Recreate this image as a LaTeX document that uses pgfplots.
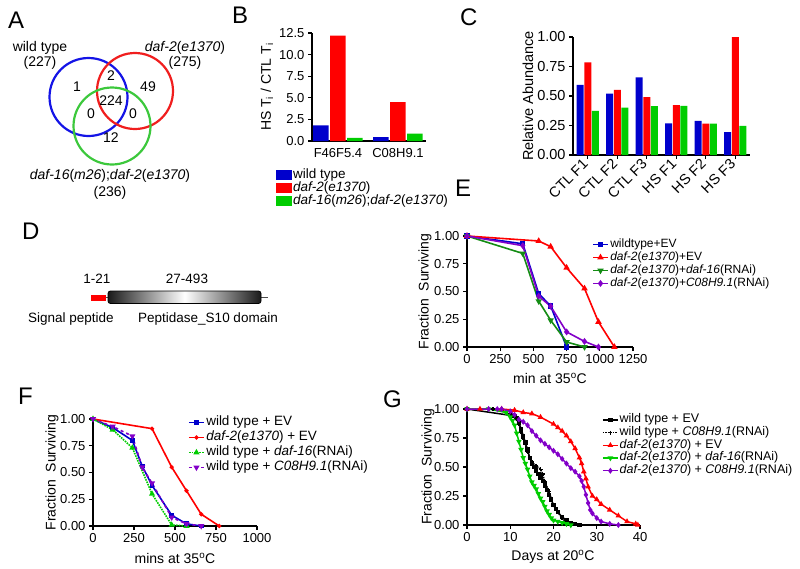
\documentclass[border=0pt]{standalone}
\usepackage{pgfplots}
\pgfplotsset{compat=1.18}
\usepackage{fontspec}
\setmainfont{Liberation Sans}
\definecolor{cblue}{RGB}{0,0,204}
\definecolor{cred}{RGB}{255,0,0}
\definecolor{cgreen}{RGB}{0,204,0}
\definecolor{vblue}{RGB}{20,20,230}
\definecolor{vred}{RGB}{240,30,30}
\definecolor{vgreen}{RGB}{60,200,60}
\definecolor{dgreen}{RGB}{20,140,20}
\definecolor{cpurple}{RGB}{130,0,200}
\newcommand\fs[2]{\fontsize{#1}{#2}\selectfont}
\newcommand\gl{\fontsize{12.5}{14}\selectfont}
\pgfplotsset{
  /pgf/number format/assume math mode=true,
  /pgf/number format/1000 sep={},
  base/.style={scale only axis, anchor=south west, axis lines*=left,
    axis line style={line width=1.6pt}, tick align=outside,
    major tick length=4pt, tick style={line width=1.3pt, black},
    tick pos=left, tick label style={font=\fs{13}{15}},
    label style={font=\fs{14}{16}}, clip=false},
  surv/.style={base, ymin=0, ymax=1, ytick={0,0.25,0.5,0.75,1},
    yticklabel style={/pgf/number format/.cd, fixed, fixed zerofill, precision=2},
    every axis plot/.append style={line width=1.6pt},
    legend cell align=left,
    legend image code/.code={\draw[mark repeat=2,mark phase=2,##1] plot coordinates {(0pt,0pt) (7.5pt,0pt) (15pt,0pt)};},
    ylabel={Fraction\ \ Surviving}},
}
\begin{document}
\begin{tikzpicture}
\useasboundingbox (0pt,0pt) rectangle (800pt,-568pt);
% panel letters
\node[anchor=base west, inner sep=0pt, font=\fs{24}{28}] at (8pt,-28pt) {A};
\node[anchor=base west, inner sep=0pt, font=\fs{24}{28}] at (232pt,-23pt) {B};
\node[anchor=base west, inner sep=0pt, font=\fs{24}{28}] at (460pt,-25pt) {C};
\node[anchor=base west, inner sep=0pt, font=\fs{24}{28}] at (22pt,-239pt) {D};
\node[anchor=base west, inner sep=0pt, font=\fs{24}{28}] at (455pt,-196pt) {E};
\node[anchor=base west, inner sep=0pt, font=\fs{24}{28}] at (18pt,-404pt) {F};
\node[anchor=base west, inner sep=0pt, font=\fs{24}{28}] at (383pt,-407pt) {G};
% ---------- A: Venn diagram
\draw[vblue, line width=2.2pt] (88.5pt,-97pt) circle (39pt);
\draw[vred, line width=2.2pt] (135pt,-91pt) circle (38pt);
\draw[vgreen, line width=2.2pt] (112pt,-126pt) circle (38.5pt);
\begin{scope}[every node/.style={font=\fs{14}{16}, inner sep=0pt}]
\node at (40pt,-48pt) {wild type};
\node at (40pt,-63pt) {(227)};
\node at (185pt,-48pt) {\textit{daf-2}(\textit{e1370})};
\node at (185pt,-63pt) {(275)};
\node at (110pt,-176pt) {\textit{daf-16}(\textit{m26});\textit{daf-2}(\textit{e1370})};
\node at (110pt,-193pt) {(236)};
\node at (77pt,-87pt) {1};
\node at (111pt,-76pt) {2};
\node at (148pt,-87pt) {49};
\node at (111pt,-101pt) {224};
\node at (91pt,-114pt) {0};
\node at (133pt,-114pt) {0};
\node at (111pt,-138pt) {12};
\end{scope}
% ---------- D: domain diagram
\draw[black!70, line width=1.2pt] (105pt,-297.5pt) -- (268pt,-297.5pt);
\fill[red] (91pt,-295pt) rectangle (106pt,-300.5pt);
\shade[left color=black!90, right color=black!90, middle color=white, rounded corners=2.5pt] (108pt,-291pt) rectangle (261pt,-303.5pt);
\draw[black, line width=0.8pt, rounded corners=2.5pt] (108pt,-291pt) rectangle (261pt,-303.5pt);
\begin{scope}[every node/.style={font=\fs{13.5}{16}, inner sep=0pt}]
\node at (97pt,-279pt) {1-21};
\node at (187pt,-279pt) {27-493};
\node at (71pt,-319pt) {Signal peptide};
\node at (208pt,-319pt) {Peptidase\_S10 domain};
\end{scope}
% ---------- B
\begin{axis}[base, at={(312pt,-141pt)}, width=114pt, height=108pt,
  xmin=-0.433, xmax=1.467, ymin=0, ymax=12.5, ytick={0,2.5,5,7.5,10,12.5},
  yticklabel style={/pgf/number format/.cd, fixed, fixed zerofill, precision=1},
  xtick={0,1}, xticklabels={F46F5.4,C08H9.1}, major x tick style={draw=none},
  ybar=1.5pt, bar width=15.5pt,
  ylabel={HS T\textsubscript{i} / CTL T\textsubscript{i}},
  ylabel style={at={(axis description cs:-0.395,0.5)}, anchor=center},
  legend image code/.code={\fill[#1] (0pt,-5pt) rectangle (16pt,5pt);},
  legend cell align=left,
  legend style={at={(axis description cs:-0.316,-0.255)}, anchor=north west, draw=none, fill=none, inner sep=0pt, font=\fs{13.5}{15}, row sep=0pt,
    nodes={inner xsep=1pt, inner ysep=0pt, text height=9.5pt, text depth=3.5pt}}]
\addplot[fill=cblue, draw=none] coordinates {(0,1.8) (1,0.45)};
\addplot[fill=cred, draw=none] coordinates {(0,12.2) (1,4.5)};
\addplot[fill=cgreen, draw=none] coordinates {(0,0.35) (1,0.85)};
\legend{wild type,\textit{daf-2}(\textit{e1370}),\textit{daf-16}(\textit{m26});\textit{daf-2}(\textit{e1370})}
\end{axis}
% ---------- C
\begin{axis}[base, at={(573pt,-155pt)}, width=177pt, height=118pt,
  xmin=-0.5, xmax=5.5, ymin=0, ymax=1, ytick={0,0.25,0.5,0.75,1},
  yticklabel style={/pgf/number format/.cd, fixed, fixed zerofill, precision=2},
  tick label style={font=\fs{14.5}{16}},
  xtick={0,...,5}, xticklabels={CTL F1,CTL F2,CTL F3,HS F1,HS F2,HS F3},
  xticklabel style={rotate=45, anchor=east},
  ybar=0.7pt, bar width=7pt,
  ylabel={Relative Abundance}, label style={font=\fs{14.5}{16}},
  ylabel style={at={(axis description cs:-0.254,0.5)}, anchor=center}]
\addplot[fill=cblue, draw=none] coordinates {(0,0.595) (1,0.521) (2,0.657) (3,0.269) (4,0.289) (5,0.193)};
\addplot[fill=cred, draw=none] coordinates {(0,0.785) (1,0.552) (2,0.490) (3,0.422) (4,0.266) (5,1.0)};
\addplot[fill=cgreen, draw=none] coordinates {(0,0.374) (1,0.402) (2,0.414) (3,0.416) (4,0.266) (5,0.246)};
\end{axis}
% ---------- E
\begin{axis}[surv, at={(467pt,-347pt)}, width=166pt, height=111pt,
  xmin=0, xmax=1250, xtick={0,250,500,750,1000,1250},
  xlabel={min at 35\textsuperscript{o}C},
  xlabel style={at={(axis description cs:0.5,-0.28)}, anchor=center},
  ylabel style={at={(axis description cs:-0.253,0.5)}, anchor=center},
  legend style={at={(axis description cs:0.753,0.982)}, anchor=north west, draw=none, fill=none, inner sep=0pt, font=\fs{12}{14}, row sep=0.5pt,
    nodes={inner xsep=1.5pt, inner ysep=0pt, text height=9pt, text depth=3.5pt}}]
\addplot[cblue, mark=square*, mark size=1.8pt] coordinates {(0,1) (420,0.93) (540,0.48) (630,0.37) (750,0.0)};
\addplot[cred, mark=triangle*, mark size=2.2pt] coordinates {(0,1) (540,0.955) (630,0.904) (750,0.714) (885,0.527) (990,0.226) (1110,0)};
\addplot[dgreen, mark=triangle*, mark size=2.2pt, mark options={rotate=180}] coordinates {(0,1) (420,0.843) (540,0.413) (630,0.241) (750,0.045) (885,0)};
\addplot[cpurple, mark=diamond*, mark size=2.2pt] coordinates {(0,1) (420,0.913) (540,0.458) (630,0.367) (750,0.136) (885,0.05) (990,0)};
\legend{wildtype+EV,\textit{daf-2}(\textit{e1370})+EV,\textit{daf-2}(\textit{e1370})+\textit{daf-16}(RNAi),\textit{daf-2}(\textit{e1370})+\textit{C08H9.1}(RNAi)}
\end{axis}
% ---------- F
\begin{axis}[surv, at={(93pt,-526pt)}, width=164pt, height=107pt,
  xmin=0, xmax=1000, xtick={0,250,500,750,1000},
  xlabel={mins at 35\textsuperscript{o}C},
  xlabel style={at={(axis description cs:0.5,-0.30)}, anchor=center},
  ylabel style={at={(axis description cs:-0.25,0.5)}, anchor=center},
  legend style={at={(axis description cs:0.579,1.037)}, anchor=north west, draw=none, fill=none, inner sep=0pt, font=\fs{13.5}{15}, row sep=0.5pt,
    nodes={inner xsep=1.5pt, inner ysep=0pt, text height=10.5pt, text depth=4pt}}]
\addplot[cblue, mark=square*, mark size=1.6pt] coordinates {(0,1) (120,0.92) (240,0.80) (300,0.56) (360,0.38) (480,0.10) (570,0.02) (660,0)};
\addplot[cred, mark=*, mark size=1.2pt] coordinates {(0,1) (360,0.91) (480,0.55) (570,0.33) (660,0.11) (770,0)};
\addplot[cgreen, densely dotted, mark=triangle*, mark size=2pt, mark options={solid}] coordinates {(0,1) (120,0.90) (240,0.73) (360,0.30) (480,0.01) (570,0)};
\addplot[cpurple, dashed, mark=triangle*, mark size=2pt, mark options={solid, rotate=180}] coordinates {(0,1) (120,0.93) (240,0.84) (300,0.55) (360,0.40) (480,0.08) (570,0.02) (660,0)};
\legend{wild type + EV,\textit{daf-2}(\textit{e1370}) + EV,wild type + \textit{daf-16}(RNAi),wild type + \textit{C08H9.1}(RNAi)}
\end{axis}
% ---------- G
\begin{axis}[surv, at={(467pt,-525pt)}, width=173pt, height=116pt,
  xmin=0, xmax=40, xtick={0,10,20,30,40},
  xlabel={Days at 20\textsuperscript{o}C},
  xlabel style={at={(axis description cs:0.497,-0.276)}, anchor=center},
  ylabel style={at={(axis description cs:-0.225,0.5)}, anchor=center},
  every axis plot/.append style={line width=1.5pt},
  legend style={at={(axis description cs:0.78,0.957)}, anchor=north west, draw=none, fill=none, inner sep=0pt, font=\gl, row sep=1.2pt,
    nodes={inner xsep=1pt, inner ysep=0pt, text height=8.5pt, text depth=3pt}}]
\addplot[black, mark=square*, mark size=1.4pt] coordinates {(0,1) (11,0.94) (11.5,0.92) (12,0.88) (12.5,0.83) (13,0.77) (13.5,0.71) (14,0.65) (14.5,0.58) (15,0.53) (15.5,0.5) (16,0.47) (16.5,0.44) (17,0.41) (17.5,0.38) (18,0.34) (18.5,0.3) (19,0.26) (19.5,0.22) (20,0.17) (20.5,0.14) (21,0.11) (22,0.07) (23,0.04) (24,0.02) (25,0.01) (26,0)};
\addplot[black, densely dotted, mark=+, mark size=2pt, mark options={solid}] coordinates {(0,1) (6,1) (8,0.99) (10,0.96) (11,0.93) (12,0.87) (12.5,0.8) (13,0.75) (14,0.63) (14.5,0.58) (15,0.54) (16,0.51) (17,0.48) (17.5,0.44) (18,0.37) (19,0.29) (19.5,0.22) (20,0.17) (21,0.11) (22,0.06) (23,0.02) (24,0)};
\addplot[cred, mark=triangle*, mark size=1.8pt] coordinates {(0,1) (3,1) (8,1) (11,0.99) (13,0.97) (15,0.96) (17,0.93) (20,0.87) (21,0.84) (22,0.81) (23,0.77) (24,0.72) (25,0.66) (26,0.58) (26.5,0.53) (27,0.46) (27.5,0.4) (28,0.33) (29,0.25) (30,0.22) (31,0.18) (33,0.13) (35,0.08) (37,0.03) (39,0.01) (39.5,0)};
\addplot[cgreen, mark=triangle*, mark size=1.8pt, mark options={rotate=180}] coordinates {(0,1) (5,1) (9,0.97) (10,0.93) (10.5,0.9) (11,0.86) (11.5,0.79) (12,0.72) (12.5,0.65) (13,0.58) (13.5,0.53) (14,0.48) (14.5,0.42) (15,0.37) (15.5,0.34) (16,0.31) (16.5,0.27) (17,0.23) (17.5,0.2) (18,0.16) (18.5,0.12) (19,0.09) (19.5,0.06) (20,0.04) (21,0.03) (22,0.02) (23,0.01) (24,0)};
\addplot[cpurple, mark=diamond*, mark size=1.8pt] coordinates {(0,1) (5,1) (7,1) (8,1) (10,0.98) (11,0.95) (12,0.91) (13,0.89) (14,0.86) (15,0.81) (16,0.77) (17,0.73) (18,0.7) (19,0.67) (20,0.64) (21,0.61) (22,0.57) (23,0.53) (24,0.49) (25,0.46) (26,0.42) (26.5,0.38) (27,0.33) (27.5,0.26) (28,0.19) (28.5,0.13) (29,0.1) (30,0.06) (31,0.03) (33,0.01) (35,0)};
\legend{wild type + EV,wild type + \textit{C08H9.1}(RNAi),\textit{daf-2}(\textit{e1370}) + EV,\textit{daf-2}(\textit{e1370}) + \textit{daf-16}(RNAi),\textit{daf-2}(\textit{e1370}) + \textit{C08H9.1}(RNAi)}
\end{axis}
\end{tikzpicture}
\end{document}
